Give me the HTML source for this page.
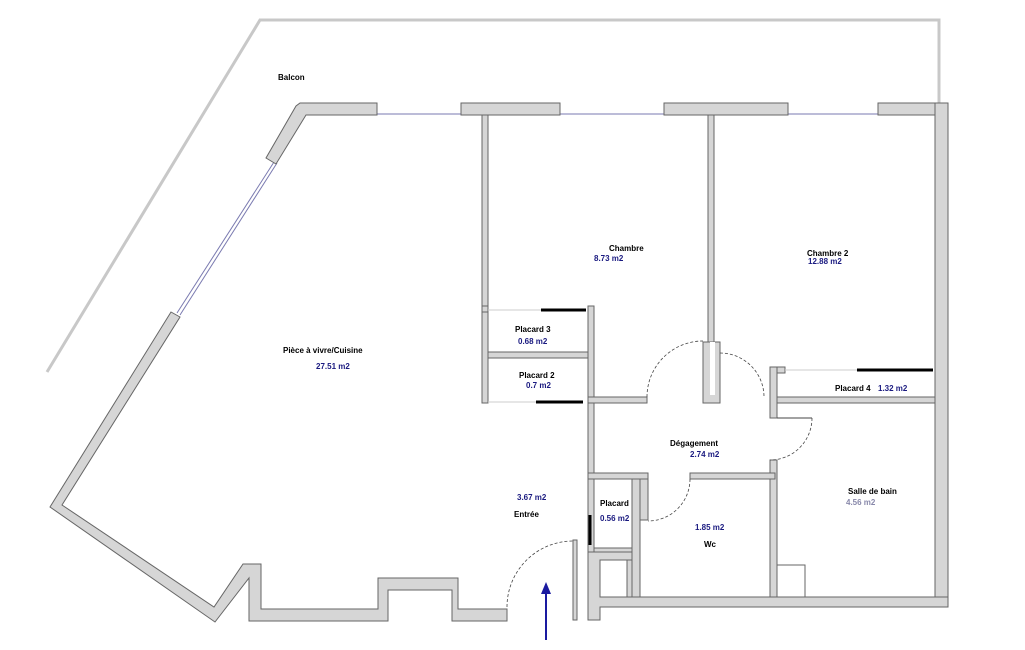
<!DOCTYPE html>
<html><head><meta charset="utf-8"><style>
html,body{margin:0;padding:0;background:#fff;width:1025px;height:650px;overflow:hidden}
svg{display:block}
text{font-family:"Liberation Sans",sans-serif;font-size:8px;font-weight:bold}
.b{fill:#1a1a80}
</style></head><body>
<svg width="1025" height="650" viewBox="0 0 1025 650" xmlns="http://www.w3.org/2000/svg">
<!-- balcony -->
<polyline points="47,372 260,20 939,20 939,103" fill="none" stroke="#c8c8c8" stroke-width="3"/>
<!-- windows -->
<g stroke="#7a7ab0" stroke-width="1">
<line x1="377" y1="114" x2="461" y2="114"/><line x1="560" y1="114" x2="664" y2="114"/><line x1="788" y1="114" x2="878" y2="114"/>
<line x1="274" y1="162" x2="177" y2="313"/><line x1="277" y1="163" x2="180" y2="315"/>
</g>
<g fill="#d6d6d6" stroke="#666" stroke-width="1">
<!-- top wall segments -->
<polygon points="300,103 377,103 377,115 306,115 276,164 266,158 296,106"/>
<rect x="461" y="103" width="99" height="12"/>
<rect x="664" y="103" width="124" height="12"/>
<rect x="878" y="103" width="70" height="12"/>
<rect x="935" y="103" width="13" height="504"/>
<!-- left outer -->
<polygon points="171,312 180,317 62,505 214,607 243,564 261,564 261,609 378,609 378,578 458,578 458,609 507,609 507,621 452,621 452,590 388,590 388,621 249,621 249,578 215,622 50,507"/>
<!-- entry right -->
<rect x="573" y="540" width="4" height="80"/>
<rect x="588" y="552" width="12" height="68"/>
<polygon points="588,552 632,552 632,560 600,560 600,597 948,597 948,607 600,607 600,620 588,620"/>
<polygon points="627,560 640,560 640,597 627,597"/>
<!-- inner walls -->
<rect x="482" y="115" width="6" height="288"/>
<rect x="708" y="115" width="6" height="230"/>
<rect x="703" y="342" width="17" height="61"/>
<rect x="588" y="306" width="6" height="246"/>
<rect x="488" y="352" width="100" height="6"/>
<rect x="588" y="397" width="59" height="6"/>
<rect x="770" y="367" width="7" height="51"/>
<rect x="777" y="397" width="158" height="6"/>
<rect x="770" y="460" width="7" height="137"/>
<rect x="588" y="473" width="60" height="6"/>
<rect x="690" y="473" width="85" height="6"/>
<rect x="632" y="479" width="8" height="118"/>
<rect x="640" y="479" width="8" height="41"/>
<rect x="594" y="548" width="38" height="4"/>
<rect x="777" y="565" width="28" height="32" fill="#fff"/>
<rect x="482" y="306" width="6" height="6"/>
<rect x="777" y="367" width="8" height="6"/>
</g>
<rect x="710" y="342" width="5" height="53" fill="#fff"/>
<!-- closet doors -->
<g stroke="#000" stroke-width="3">
<line x1="541" y1="310" x2="586" y2="310"/>
<line x1="536" y1="402" x2="583" y2="402"/>
<line x1="857" y1="370" x2="933" y2="370"/>
<line x1="590" y1="515" x2="590" y2="545"/>
</g>
<g stroke="#ccc" stroke-width="1">
<line x1="488" y1="310" x2="541" y2="310"/><line x1="488" y1="402" x2="536" y2="402"/><line x1="785" y1="370" x2="857" y2="370"/>
</g>
<!-- door arcs -->
<g fill="none" stroke="#444" stroke-width="0.8" stroke-dasharray="3,2">
<path d="M507,607 A66,66 0 0 1 573,541"/>
<path d="M647,397 A56,56 0 0 1 703,341"/>
<path d="M720,353 A44,44 0 0 1 764,397"/>
<path d="M812,418 A42,42 0 0 1 770,460"/>
<path d="M690,479 A42,42 0 0 1 648,521"/>
</g>
<g stroke="#444" stroke-width="1">
<line x1="777" y1="418" x2="812" y2="418"/>
</g>
<!-- arrow -->
<line x1="546" y1="640" x2="546" y2="592" stroke="#1a1aa0" stroke-width="2"/>
<polygon points="546,582 541,594 551,594" fill="#1a1aa0"/>
<!-- labels -->
<text x="278" y="80">Balcon</text>
<text x="283" y="353">Pièce à vivre/Cuisine</text>
<text x="316" y="369" class="b">27.51 m2</text>
<text x="609" y="251">Chambre</text>
<text x="594" y="261" class="b">8.73 m2</text>
<text x="807" y="256">Chambre 2</text>
<text x="808" y="264" class="b">12.88 m2</text>
<text x="515" y="332">Placard 3</text>
<text x="518" y="344" class="b">0.68 m2</text>
<text x="519" y="378">Placard 2</text>
<text x="526" y="388" class="b">0.7 m2</text>
<text x="670" y="446">Dégagement</text>
<text x="690" y="457" class="b">2.74 m2</text>
<text x="835" y="391">Placard 4</text>
<text x="878" y="391" class="b">1.32 m2</text>
<text x="848" y="494">Salle de bain</text>
<text x="846" y="505" fill="#8888aa">4.56 m2</text>
<text x="517" y="500" class="b">3.67 m2</text>
<text x="514" y="517">Entrée</text>
<text x="600" y="506">Placard</text>
<text x="600" y="521" class="b">0.56 m2</text>
<text x="695" y="530" class="b">1.85 m2</text>
<text x="704" y="547">Wc</text>
</svg>
</body></html>
